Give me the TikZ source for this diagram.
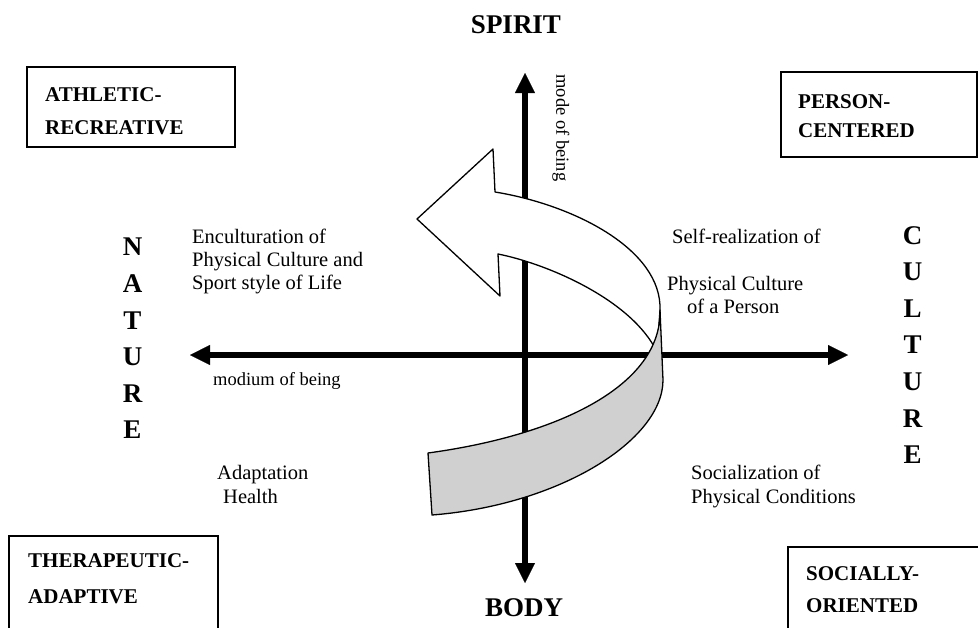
\documentclass[tikz,border=0pt]{standalone}
\usepackage{fontspec}
\setmainfont{Liberation Serif}
\usetikzlibrary{arrows.meta}
\definecolor{bandgray}{RGB}{208,208,208}
\tikzset{
  axisarrow/.style={line width=6.5pt,
    {Triangle[length=20pt,width=20pt,line width=0.1pt]}-{Triangle[length=20pt,width=20pt,line width=0.1pt]}},
  quadbox/.style={draw, line width=1.3pt},
  boxlabel/.style={font=\fontsize{21}{25}\selectfont\bfseries, anchor=base west, inner sep=0pt},
  bigbold/.style={font=\fontsize{27}{36.6}\selectfont\bfseries, inner sep=0pt},
  bodytext/.style={font=\fontsize{20.5}{23.5}\selectfont, anchor=base west, inner sep=0pt},
  smalltext/.style={font=\fontsize{18.5}{22}\selectfont, inner sep=0pt},
  band/.style={draw, line width=1.3pt, line join=round},
}
\begin{document}
\begin{tikzpicture}[x=1pt, y=-1pt]
\useasboundingbox (0,0) rectangle (978,627);
\clip (0,0) rectangle (978,627);
\fill[white] (0,0) rectangle (978,627);

% axes
\coordinate (ytop) at (525,73);
\coordinate (ybot) at (525,583);
\coordinate (xleft) at (190,355);
\coordinate (xright) at (848,355);
\draw[axisarrow] (ybot) -- (ytop);
\draw[axisarrow] (xleft) -- (xright);

% corner boxes
\draw[quadbox] (27,67) rectangle (235,147);
\draw[quadbox] (781,72) rectangle (977,157);
\draw[quadbox] (9,536) rectangle (218,640);
\draw[quadbox] (788,547) rectangle (995,640);

\node[boxlabel] (ar1) at (45,101) {ATHLETIC-};
\node[boxlabel] (ar2) at (45,134) {RECREATIVE};
\node[boxlabel] (pc1) at (798,108) {PERSON-};
\node[boxlabel] (pc2) at (798,137) {CENTERED};
\node[boxlabel] (ta1) at (28,567) {THERAPEUTIC-};
\node[boxlabel] (ta2) at (28,603) {ADAPTIVE};
\node[boxlabel] (so1) at (806,580) {SOCIALLY-};
\node[boxlabel] (so2) at (806,612) {ORIENTED};

% curved arrow: white front part
\path[band, fill=white] (495,192) .. controls (575,205) and (662,250) .. (660,310)
  -- (657,352) .. controls (632,300) and (548,264) .. (498,254)
  -- (500,296) -- (417,219) -- (493,149) -- cycle;
% grey back part
\path[band, fill=bandgray] (660,310) -- (663,380) .. controls (663,440) and (560,505) .. (432,515)
  -- (428,453) .. controls (560,435) and (662,385) .. cycle;

% pole labels
\node[bigbold, anchor=base] (spirit) at (516,33) {SPIRIT};
\node[bigbold, anchor=base] (body) at (524,616) {BODY};
\node[bigbold, align=center, anchor=north] (nature) at (132.5,238) {N\\A\\T\\U\\R\\E};
\node[bigbold, align=center, anchor=north] (culture) at (912.5,226) {C\\U\\L\\T\\U\\R\\E};

\node[smalltext, rotate=-90] (mode) at (561,128) {mode of being};
\node[smalltext, anchor=base west] (modium) at (213,385) {modium of being};

% quadrant texts
\node[bodytext] (en1) at (192,243) {Enculturation of};
\node[bodytext] (en2) at (192,266) {Physical Culture and};
\node[bodytext] (en3) at (192,289) {Sport style of Life};
\node[bodytext] (sr1) at (672,243) {Self-realization of};
\node[bodytext] (sr2) at (667,290) {Physical Culture};
\node[bodytext] (sr3) at (687,313) {of a Person};
\node[bodytext] (sc1) at (691,479) {Socialization of};
\node[bodytext] (sc2) at (691,503) {Physical Conditions};
\node[bodytext] (ad1) at (217,479) {Adaptation};
\node[bodytext] (ad2) at (223,503) {Health};
\end{tikzpicture}
\end{document}
